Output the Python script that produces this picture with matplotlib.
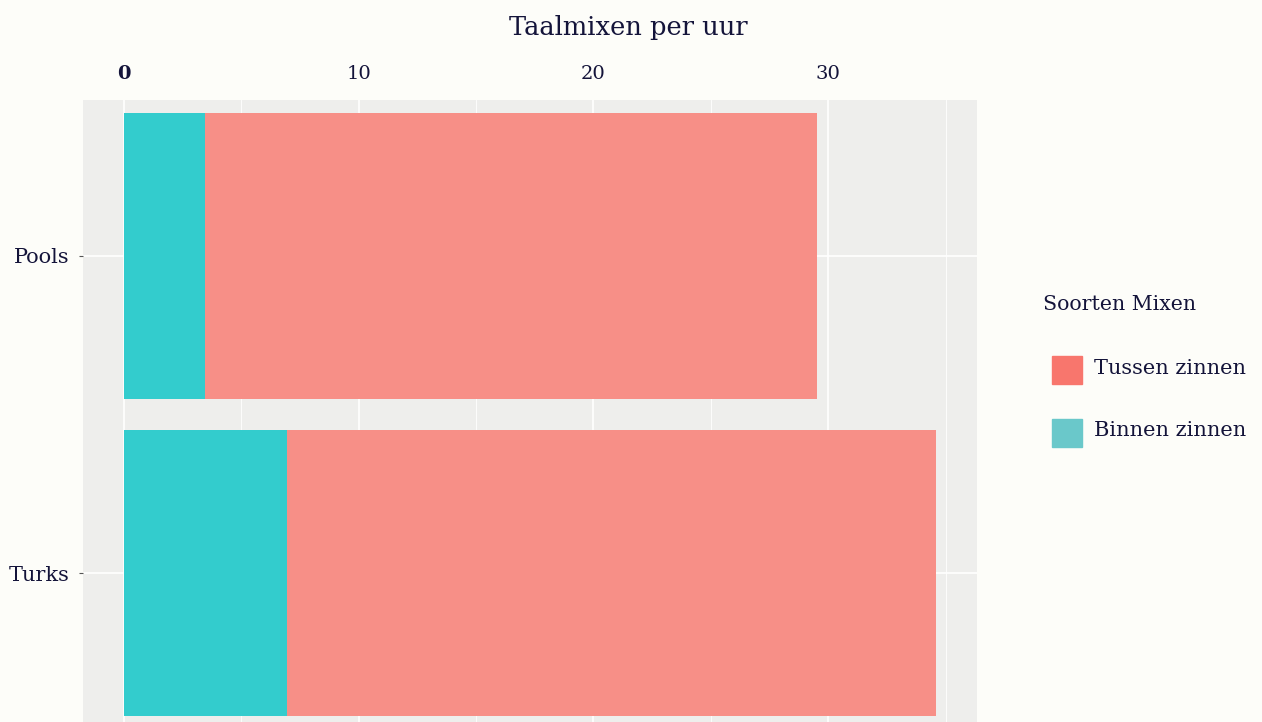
import matplotlib.pyplot as plt
from matplotlib.patches import Rectangle

# data
talen = ["Pools", "Turks"]
binnen_zinnen = [3.45, 6.95]
tussen_zinnen = [26.05, 27.65]
x_ticks = [0, 10, 20, 30]
legend_labels = ["Tussen zinnen", "Binnen zinnen"]

bg = "#fdfdf9"
panel = "#eeeeec"
txt = "#14143a"
c_tussen_bar = "#f78f87"
c_binnen_bar = "#33cccd"
c_tussen_leg = "#f8766d"
c_binnen_leg = "#6ac8ca"

plt.rcParams["font.family"] = ["DejaVu Serif"]

W, H = 1262, 722
fig = plt.figure(figsize=(W / 100, H / 100), dpi=100, facecolor=bg)
ax = fig.add_axes([0.0658, -0.0097, 0.7084, 0.8712])
ax.set_facecolor(panel)

pos = list(range(len(talen)))
ax.barh(pos, binnen_zinnen, height=0.9, color=c_binnen_bar, zorder=3)
ax.barh(pos, tussen_zinnen, left=binnen_zinnen, height=0.9, color=c_tussen_bar, zorder=3)

xmax = max(b + t for b, t in zip(binnen_zinnen, tussen_zinnen))
ax.set_xlim(-0.05 * xmax, 1.05 * xmax)
ax.set_ylim(1.492, -0.492)

ax.xaxis.tick_top()
ax.set_xticks(x_ticks)
ax.set_xticklabels([str(v) for v in x_ticks], color=txt, fontsize=14)
ax.get_xticklabels()[0].set_fontweight("bold")
ax.set_xticks([5, 15, 25, 35], minor=True)
ax.tick_params(axis="x", which="both", length=0, pad=12)
ax.set_yticks(pos)
ax.set_yticklabels(talen, color=txt, fontsize=15)
ax.tick_params(axis="y", length=3, color="#555555", pad=7)

ax.grid(True, which="major", color="white", linewidth=1.2, zorder=0)
ax.grid(True, which="minor", axis="x", color="white", linewidth=0.6, zorder=0)
ax.set_axisbelow(True)
for s in ax.spines.values():
    s.set_visible(False)

fig.text(628 / W, 1 - 28 / H, "Taalmixen per uur", ha="center", va="center", fontsize=18.5, color=txt)

# legend drawn by hand
fig.text(1043 / W, 1 - 304 / H, "Soorten Mixen", ha="left", va="center", fontsize=14.8, color=txt)
for i, (lab, col) in enumerate(zip(legend_labels, [c_tussen_leg, c_binnen_leg])):
    yc = 370 + i * 63
    fig.add_artist(Rectangle((1052 / W, 1 - (yc + 14) / H), 30 / W, 28 / H,
                             transform=fig.transFigure, color=col))
    fig.text(1094 / W, 1 - (yc - 2) / H, lab, ha="left", va="center", fontsize=15, color=txt)

fig.savefig("out.png", dpi=100, facecolor=bg)
